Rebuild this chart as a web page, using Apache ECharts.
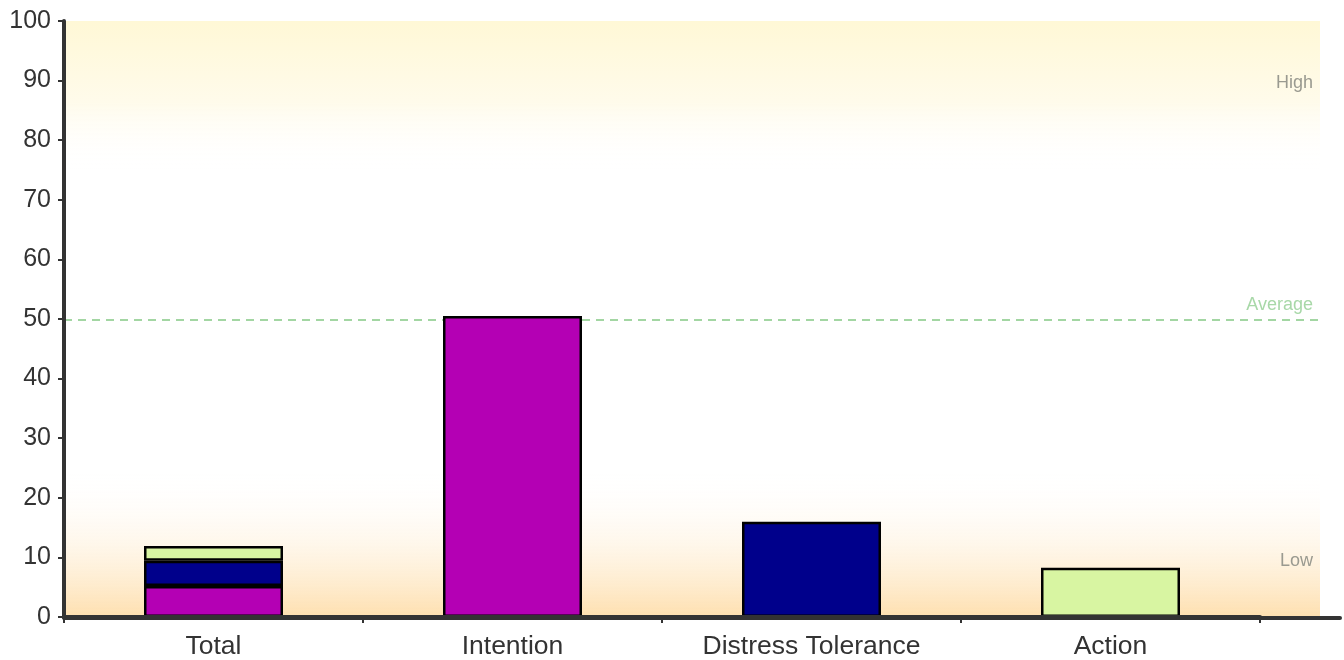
<!DOCTYPE html>
<html>
<head>
<meta charset="utf-8">
<script src="https://cdn.jsdelivr.net/npm/echarts@6/dist/echarts.min.js"></script>
<style>
html,body{margin:0;padding:0;background:#fff;}
#c{width:1344px;height:660px;}
</style>
</head>
<body>
<div id="c"></div>
<script>
const categories = ['Total', 'Intention', 'Distress Tolerance', 'Action'];
const intentionValues = [5.2, 50.5, '-', '-'];
const distressValues = [4.25, '-', 16.0, '-'];
const actionValues = [2.45, '-', '-', 8.25];
const yTicks = [0, 10, 20, 30, 40, 50, 60, 70, 80, 90, 100];
const averageValue = 50;
const highBand = [75, 100];
const lowBand = [0, 25];
const highLabelBand = [80, 100];
const lowLabelBand = [0, 20];

const chart = echarts.init(document.getElementById('c'));
const font = '"Liberation Sans", Arial, sans-serif';
const gridTop = 21, gridBottom = 42;

chart.setOption({
  animation: false,
  textStyle: { fontFamily: font },
  grid: [
    { left: 64, right: 84, top: gridTop, bottom: gridBottom },
    { left: 64, right: 24, top: gridTop, bottom: gridBottom },
    { left: 64, right: 4, top: gridTop, bottom: gridBottom }
  ],
  xAxis: [
    {
      gridIndex: 0, type: 'category', data: categories,
      axisLine: { lineStyle: { color: '#333', width: 4 } },
      axisTick: { show: true, length: 6, lineStyle: { color: '#333', width: 2 } },
      axisLabel: { color: '#333', fontSize: 26.5, fontFamily: font, margin: 16 },
      z: 5
    },
    { gridIndex: 1, type: 'value', min: 0, max: 1, show: false },
    {
      gridIndex: 2, type: 'value', min: 0, max: 1,
      axisLine: { show: true, lineStyle: { color: '#333', width: 4 } },
      axisTick: { show: false }, axisLabel: { show: false }, splitLine: { show: false },
      z: 4
    }
  ],
  yAxis: [
    {
      gridIndex: 0, type: 'value', min: yTicks[0], max: yTicks[yTicks.length - 1], interval: 10,
      axisLine: { show: true, lineStyle: { color: '#333', width: 4 } },
      axisTick: { show: true, length: 6, lineStyle: { color: '#333', width: 2 } },
      axisLabel: { color: '#333', fontSize: 25, fontFamily: font, margin: 13 },
      splitLine: { show: false },
      z: 6
    },
    { gridIndex: 1, type: 'value', min: 0, max: 100, show: false },
    { gridIndex: 2, type: 'value', min: 0, max: 100, show: false }
  ],
  series: [
    {
      type: 'line', xAxisIndex: 1, yAxisIndex: 1, data: [], z: 1, silent: true,
      markArea: {
        silent: true, z: 0,
        data: [
          [
            { yAxis: highBand[0], itemStyle: { color: { type: 'linear', x: 0, y: 0, x2: 0, y2: 1,
              colorStops: [{ offset: 0, color: '#fff8d6' }, { offset: 0.55, color: '#fffbeb' }, { offset: 1, color: 'rgba(255,255,255,0)' }] } } },
            { yAxis: highBand[1] }
          ],
          [
            { yAxis: lowBand[0], itemStyle: { color: { type: 'linear', x: 0, y: 0, x2: 0, y2: 1,
              colorStops: [{ offset: 0, color: 'rgba(255,255,255,0)' }, { offset: 1, color: '#fedfae' }] } } },
            { yAxis: lowBand[1] }
          ],
          [
            { yAxis: highLabelBand[0], name: 'High', itemStyle: { color: 'rgba(0,0,0,0)' },
              label: { show: true, position: 'insideRight', color: '#9a9a90', fontSize: 18, fontFamily: font, distance: 7, offset: [0, 2] } },
            { yAxis: highLabelBand[1] }
          ],
          [
            { yAxis: lowLabelBand[0], name: 'Low', itemStyle: { color: 'rgba(0,0,0,0)' },
              label: { show: true, position: 'insideRight', color: '#9a9a90', fontSize: 18, fontFamily: font, distance: 7, offset: [0, 3] } },
            { yAxis: lowLabelBand[1] }
          ]
        ]
      },
      markLine: {
        silent: true, symbol: ['none', 'none'], z: 1,
        lineStyle: { color: '#a3d6a3', type: [8, 6], width: 2 },
        label: { show: true, position: 'insideEndTop', formatter: 'Average', color: '#a8d8a8', fontSize: 18, fontFamily: font, distance: [7, 5] },
        data: [{ yAxis: averageValue }]
      }
    },
    {
      name: 'Intention', type: 'bar', stack: 'a', data: intentionValues, barWidth: 139, z: 3,
      itemStyle: { color: '#b400b4', borderColor: '#000', borderWidth: 2.5 }
    },
    {
      name: 'Distress Tolerance', type: 'bar', stack: 'a', data: distressValues, barWidth: 139, z: 3,
      itemStyle: { color: '#00008b', borderColor: '#000', borderWidth: 2.5 }
    },
    {
      name: 'Action', type: 'bar', stack: 'a', data: actionValues, barWidth: 139, z: 3,
      itemStyle: { color: '#d8f5a2', borderColor: '#000', borderWidth: 2.5 }
    }
  ]
});
</script>
</body>
</html>
